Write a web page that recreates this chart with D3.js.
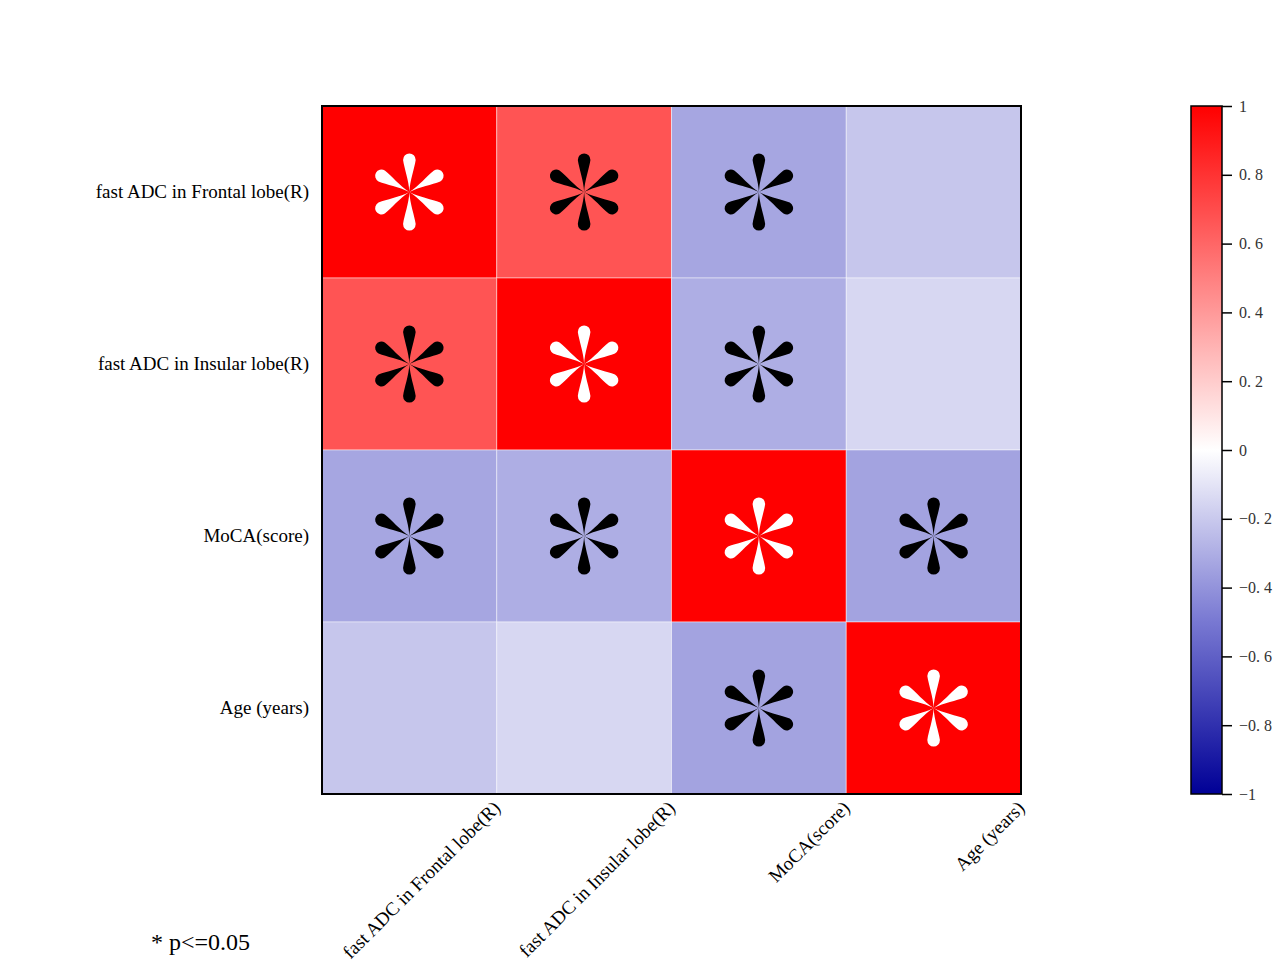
<!DOCTYPE html>
<html>
<head>
<meta charset="utf-8">
<script src="https://cdn.jsdelivr.net/npm/d3@7"></script>
<style>
  body { margin: 0; background: #fff; }
  text { font-family: "Liberation Serif", "Times New Roman", serif; }
</style>
</head>
<body>
<script>
var width = 1282,
    height = 979;

// variables, in row / column order
var labels = ["fast ADC in Frontal lobe(R)", "fast ADC in Insular lobe(R)", "MoCA(score)", "Age (years)"];

// correlation matrix
var row0 = [1.00, 0.67, -0.33, -0.21];
var row1 = [0.67, 1.00, -0.30, -0.15];
var row2 = [-0.33, -0.30, 1.00, -0.34];
var row3 = [-0.21, -0.15, -0.34, 1.00];
var rows = [row0, row1, row2, row3];

// significance (p<=0.05)
var sig0 = [1, 1, 1, 0];
var sig1 = [1, 1, 1, 0];
var sig2 = [1, 1, 1, 1];
var sig3 = [0, 0, 1, 1];
var sigs = [sig0, sig1, sig2, sig3];

var cbTicks = [1, 0.8, 0.6, 0.4, 0.2, 0, -0.2, -0.4, -0.6, -0.8, -1];
var cbTickLabels = ["1", "0. 8", "0. 6", "0. 4", "0. 2", "0", "\u22120. 2", "\u22120. 4", "\u22120. 6", "\u22120. 8", "\u22121"];

var plot = {left: 322, top: 106, right: 1021, bottom: 794};

var color = d3.scaleLinear()
    .domain([-1, -0.5, 0, 1])
    .range(["#000096", "#7878d2", "#ffffff", "#ff0000"])
    .clamp(true);

var x = d3.scaleBand()
    .domain(d3.range(labels.length))
    .range([plot.left, plot.right]);

var y = d3.scaleBand()
    .domain(d3.range(labels.length))
    .range([plot.top, plot.bottom]);

var svg = d3.select("body").append("svg")
    .attr("width", width)
    .attr("height", height);

var cells = [];
rows.forEach(function(r, i) {
  r.forEach(function(v, j) {
    cells.push({i: i, j: j, v: v, s: sigs[i][j]});
  });
});

// cells
svg.append("g")
  .selectAll("rect")
  .data(cells)
  .enter().append("rect")
    .attr("x", function(d) { return x(d.j); })
    .attr("y", function(d) { return y(d.i); })
    .attr("width", x.bandwidth())
    .attr("height", y.bandwidth())
    .attr("fill", function(d) { return color(d.v); })
    .attr("stroke", "rgba(255,255,255,0.45)")
    .attr("stroke-width", 1);

// significance stars: six teardrop petals
var petal = "M0,0 C-0.6,-12 -5,-23 -6.3,-32 A6.3,6.6 0 1 1 6.3,-32 C5,-23 0.6,-12 0,0 Z";

var stars = svg.append("g")
  .selectAll("g")
  .data(cells.filter(function(d) { return d.s; }))
  .enter().append("g")
    .attr("transform", function(d) {
      return "translate(" + (x(d.j) + x.bandwidth() / 2) + "," + (y(d.i) + y.bandwidth() / 2) + ")";
    })
    .attr("fill", function(d) { return d.v > 0.9 ? "#fff" : "#000"; });

stars.selectAll("path")
  .data([0, 60, 120, 180, 240, 300])
  .enter().append("path")
    .attr("d", petal)
    .attr("transform", function(a) { return "rotate(" + a + ")"; });

// frame
svg.append("rect")
    .attr("x", plot.left)
    .attr("y", plot.top)
    .attr("width", plot.right - plot.left)
    .attr("height", plot.bottom - plot.top)
    .attr("fill", "none")
    .attr("stroke", "#000")
    .attr("stroke-width", 2);

// y labels
svg.append("g")
  .selectAll("text")
  .data(labels)
  .enter().append("text")
    .attr("x", plot.left - 13)
    .attr("y", function(d, i) { return y(i) + y.bandwidth() / 2 + 6; })
    .attr("text-anchor", "end")
    .attr("font-size", 19)
    .text(function(d) { return d; });

// x labels, rotated
svg.append("g")
  .selectAll("text")
  .data(labels)
  .enter().append("text")
    .attr("transform", function(d, i) {
      return "translate(" + (x(i) + x.bandwidth() / 2 + 92) + "," + (plot.bottom + 15) + ") rotate(-45)";
    })
    .attr("text-anchor", "end")
    .attr("font-size", 19)
    .text(function(d) { return d; });

// colorbar
var cb = {left: 1191, right: 1222, top: 106, bottom: 794};
var cbScale = d3.scaleLinear().domain([-1, 1]).range([cb.bottom, cb.top]);

var defs = svg.append("defs");
var grad = defs.append("linearGradient")
    .attr("id", "cbgrad")
    .attr("x1", 0).attr("y1", 1).attr("x2", 0).attr("y2", 0);
d3.range(0, 1.0001, 0.05).forEach(function(t) {
  grad.append("stop")
      .attr("offset", t)
      .attr("stop-color", color(-1 + 2 * t));
});

svg.append("rect")
    .attr("x", cb.left)
    .attr("y", cb.top)
    .attr("width", cb.right - cb.left)
    .attr("height", cb.bottom - cb.top)
    .attr("fill", "url(#cbgrad)")
    .attr("stroke", "#000")
    .attr("stroke-width", 1.5);

var cbAxis = d3.axisRight(cbScale)
    .tickValues(cbTicks)
    .tickSize(10)
    .tickPadding(7)
    .tickFormat(function(d, i) { return cbTickLabels[i]; });

var cbg = svg.append("g")
    .attr("transform", "translate(" + cb.right + ",0)")
    .call(cbAxis);
cbg.select(".domain").remove();
cbg.selectAll("line").attr("stroke", "#000").attr("stroke-width", 1.5);
cbg.selectAll("text")
    .attr("font-family", "Liberation Serif, serif")
    .attr("font-size", 16)
    .attr("fill", "#333");

// note
svg.append("text")
    .attr("x", 151)
    .attr("y", 950)
    .attr("font-size", 24)
    .text("* p<=0.05");
</script>
</body>
</html>
